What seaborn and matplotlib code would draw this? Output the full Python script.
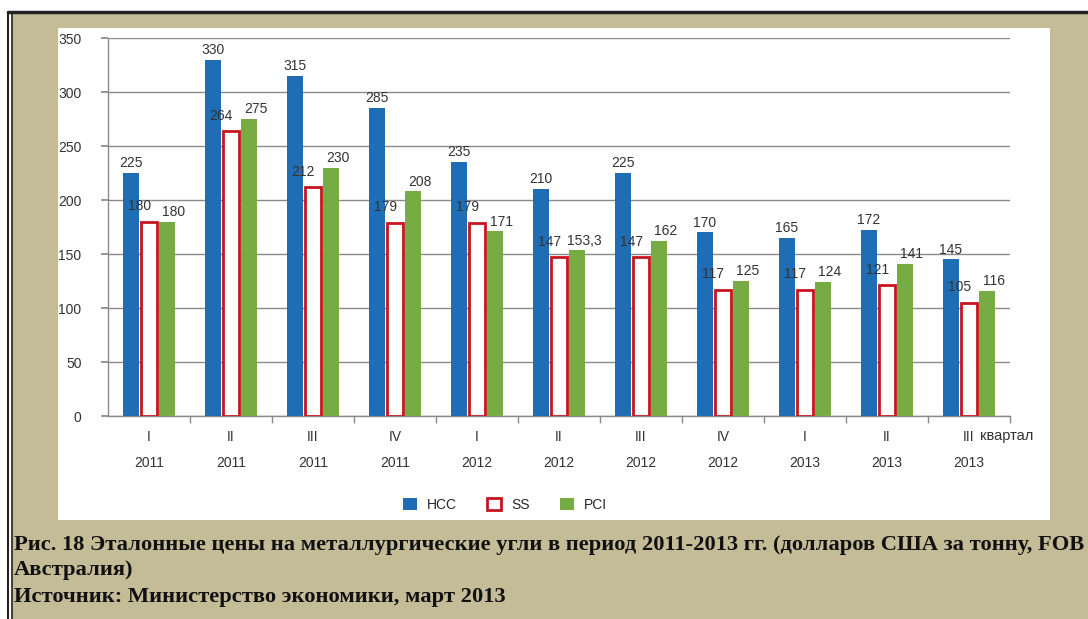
import matplotlib
matplotlib.use("Agg")
import matplotlib.pyplot as plt
import seaborn as sns
import pandas as pd
from matplotlib.patches import Rectangle
from matplotlib.lines import Line2D

quarters = ["I", "II", "III", "IV", "I", "II", "III", "IV", "I", "II", "III"]
years = ["2011", "2011", "2011", "2011", "2012", "2012", "2012", "2012", "2013", "2013", "2013"]
hcc = [225, 330, 315, 285, 235, 210, 225, 170, 165, 172, 145]
ss = [180, 264, 212, 179, 179, 147, 147, 117, 117, 121, 105]
pci = [180, 275, 230, 208, 171, 153.3, 162, 125, 124, 141, 116]
hcc_labels = ["225", "330", "315", "285", "235", "210", "225", "170", "165", "172", "145"]
ss_labels = ["180", "264", "212", "179", "179", "147", "147", "117", "117", "121", "105"]
pci_labels = ["180", "275", "230", "208", "171", "153,3", "162", "125", "124", "141", "116"]
series = ["HCC", "SS", "PCI"]
yticks = [0, 50, 100, 150, 200, 250, 300, 350]

BLUE = "#1f6db5"
RED = "#c8141e"
GREEN = "#77ac44"
TAN = "#c4bb97"
TXT = "#333333"
FS = 10

cats = [f"{q}\n{y}" for q, y in zip(quarters, years)]
rows = []
for name, vals in zip(series, [hcc, ss, pci]):
    for c, v in zip(cats, vals):
        rows.append({"cat": c, "series": name, "value": v})
df = pd.DataFrame(rows)

sns.set_theme(style="white")
plt.rcParams["font.family"] = ["Liberation Sans", "DejaVu Sans"]

W, H = 1088, 619
fig = plt.figure(figsize=(W / 100, H / 100), dpi=100)
fig.patch.set_facecolor("white")

def rect(x, y, w, h, **kw):
    r = Rectangle((x / W, 1 - (y + h) / H), w / W, h / H, transform=fig.transFigure, **kw)
    fig.patches.append(r)

rect(12, 14, W - 12, H - 14, facecolor=TAN, edgecolor="none", zorder=-5)
rect(58, 28, 992, 492, facecolor="white", edgecolor="none", zorder=-4)
for l in [Line2D([8 / W, 1], [1 - 12 / H, 1 - 12 / H], lw=2.5, color="#222222"),
          Line2D([8 / W, 8 / W], [0, 1 - 12 / H], lw=1.5, color="#222222"),
          Line2D([12 / W, 12 / W], [0, 1 - 14 / H], lw=1.2, color="#222222")]:
    l.set_transform(fig.transFigure)
    l.set_zorder(-3)
    fig.lines.append(l)

ax = fig.add_axes([108 / W, 203 / H, 902 / W, 378 / H])
ax.set_zorder(2)
ax.set_facecolor("none")
sns.barplot(data=df, x="cat", y="value", hue="series", palette=[BLUE, "white", GREEN],
            width=0.66, ax=ax, legend=False, saturation=1)

for i, cont in enumerate(ax.containers):
    for p in cont:
        p.set_zorder(3)
        w = p.get_width()
        cx = p.get_x() + w / 2
        p.set_width(w * 0.84)
        p.set_x(cx - w * 0.42)
        if i == 1:
            p.set_edgecolor(RED)
            p.set_linewidth(2)
            p.set_facecolor("white")
        else:
            p.set_edgecolor("none")

labels = [hcc_labels, ss_labels, pci_labels]
offs = [(0, 2), (-7, 6), (5, 2)]
for i, cont in enumerate(ax.containers):
    texts = ax.bar_label(cont, labels=labels[i], padding=2, fontsize=FS, color=TXT)
    for t in texts:
        t.xyann = offs[i]

ax.set_ylim(0, 350)
ax.set_xlim(-0.5, 10.5)
ax.set_yticks(yticks)
ax.set_yticklabels([str(v) for v in yticks], fontsize=FS, color=TXT)
ax.yaxis.grid(True, color="#8a8a8a", lw=1)
ax.set_axisbelow(True)
ax.tick_params(axis="y", which="major", length=5, color="#8a8a8a", pad=14, left=True)
ax.tick_params(axis="x", which="major", length=0, pad=10, labelsize=FS, labelcolor=TXT)
ax.set_xticks(range(len(cats)))
ax.set_xticklabels(cats, linespacing=2.1)
ax.set_xticks([i + 0.5 for i in range(len(cats))], minor=True)
ax.tick_params(axis="x", which="minor", length=5, color="#8a8a8a", bottom=True, direction="out")
ax.set_xlabel("")
ax.set_ylabel("")
for s in ["top", "right"]:
    ax.spines[s].set_visible(False)
for s in ["left", "bottom"]:
    ax.spines[s].set_color("#8a8a8a")
    ax.spines[s].set_linewidth(1)

fig.text(980 / W, 1 - 436 / H, "квартал", fontsize=FS + 0.5, color=TXT, va="center", ha="left")

handles = [Rectangle((0, 0), 1, 1, facecolor=BLUE, edgecolor="none"),
           Rectangle((0, 0), 1, 1, facecolor="white", edgecolor=RED, lw=2),
           Rectangle((0, 0), 1, 1, facecolor=GREEN, edgecolor="none")]
fig.legend(handles, series, loc="center", bbox_to_anchor=(505 / W, 1 - 505 / H), ncol=3,
           frameon=False, fontsize=FS, handlelength=1.0, handleheight=1.0, columnspacing=2.2,
           handletextpad=0.7)

cap_kw = dict(fontsize=16.2, fontweight="bold", family=["Liberation Serif", "DejaVu Serif"],
              color="#111111", va="center", ha="left")
fig.text(14 / W, 1 - 545 / H, "Рис. 18 Эталонные цены на металлургические угли в период 2011-2013 гг. (долларов США за тонну, FOB", **cap_kw)
fig.text(14 / W, 1 - 570 / H, "Австралия)", **cap_kw)
fig.text(14 / W, 1 - 597 / H, "Источник: Министерство экономики, март 2013", **cap_kw)

fig.savefig("out.png", dpi=100, facecolor=fig.get_facecolor())
